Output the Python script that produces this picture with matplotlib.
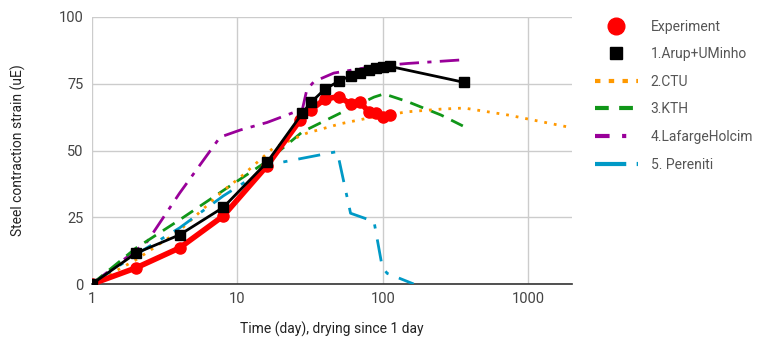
import matplotlib.pyplot as plt
from matplotlib.ticker import FixedLocator, NullLocator
from matplotlib.lines import Line2D

plt.rcParams['font.family'] = ['Roboto', 'DejaVu Sans']

# Experiment
exp_days = [1, 2, 4, 8, 16, 27, 32, 40, 50, 60, 70, 80, 90, 100, 112]
exp_strain = [0, 6, 13.5, 25.5, 44.3, 61.4, 65.2, 69.3, 70.2, 67.4, 68.1, 64.4, 64, 62.5, 63.3]

# 1.Arup+UMinho
arup_days = [1, 2, 4, 8, 16, 28, 32, 40, 50, 60, 70, 80, 90, 100, 112, 364]
arup_strain = [0, 11.5, 18.4, 28.7, 45.6, 64, 68, 73, 76, 78, 79, 80, 80.8, 81.2, 81.5, 75.5]

# 2.CTU
ctu_days = [1, 2, 4, 8, 10.5, 17.7, 30, 51, 87, 148, 251, 363, 724, 1230, 2000]
ctu_strain = [0, 9, 20, 35, 40, 51, 56.5, 60, 62.6, 64.5, 65.5, 65.9, 63.3, 60.8, 58.5]

# 3.KTH
kth_days = [1, 2, 4, 8.5, 16, 28, 51, 87, 102, 148, 251, 355]
kth_strain = [0, 13.4, 24, 36, 46, 57, 64, 70, 71.2, 68.3, 63.3, 59.2]

# 4.LafargeHolcim
lh_days = [1, 2.4, 4, 7.6, 10.5, 16, 28, 30, 33.6, 46, 87, 148, 363]
lh_strain = [0, 15.9, 34, 55, 57.7, 60.5, 65.5, 72.7, 75.8, 79, 81.5, 82.6, 84]

# 5. Pereniti
per_days = [1, 2, 4, 8, 17.7, 48.6, 60, 87, 99, 107, 163]
per_strain = [0, 11, 21, 33, 45, 49.6, 26.5, 23.4, 6.5, 4, 0]

labels = ['Experiment', '1.Arup+UMinho', '2.CTU', '3.KTH', '4.LafargeHolcim', '5. Pereniti']

fig = plt.figure(figsize=(7.62, 3.42), dpi=100)
ax = fig.add_axes([92 / 762, 1 - 284 / 342, 480 / 762, 267 / 342])

ax.plot(lh_days, lh_strain, color='#990099', lw=2, dashes=(7, 3, 1.5, 3), zorder=3)
ax.plot(kth_days, kth_strain, color='#109618', lw=2, dashes=(5, 3), zorder=3)
ax.plot(ctu_days, ctu_strain, color='#ff9900', lw=2, dashes=(1, 2.5), zorder=3)
ax.plot(per_days, per_strain, color='#0099c6', lw=2, dashes=(8, 4, 1.5, 4), zorder=3)
ax.plot(exp_days, exp_strain, color='#ff0000', lw=4, marker='o', ms=8, zorder=4)
ax.plot(arup_days, arup_strain, color='#000000', lw=2, marker='s', ms=7, zorder=5)

ax.set_xscale('log')
ax.set_xlim(1, 2000)
ax.set_ylim(0, 100)
ax.xaxis.set_major_locator(FixedLocator([1, 10, 100, 1000]))
ax.xaxis.set_minor_locator(NullLocator())
ax.set_xticklabels(['1', '10', '100', '1000'])
ax.set_yticks([0, 25, 50, 75, 100])
ax.grid(True, color='#cccccc', lw=1)
ax.set_axisbelow(True)
for s in ['top', 'right', 'left']:
    ax.spines[s].set_visible(False)
ax.spines['bottom'].set_color('#333333')
ax.spines['bottom'].set_linewidth(1.2)
ax.tick_params(length=0, colors='#444444', labelsize=10.5, pad=6)
ax.set_xlabel('Time (day), drying since 1 day', fontsize=10, color='#222222', labelpad=11)
ax.set_ylabel('Steel contraction strain (uE)', fontsize=10, color='#222222', labelpad=24)

handles = [
    Line2D([], [], color='#ff0000', marker='o', ms=12, ls='none'),
    Line2D([], [], color='#000000', marker='s', ms=8, ls='none'),
    Line2D([], [], color='#ff9900', lw=3, dashes=(1.3, 2)),
    Line2D([], [], color='#109618', lw=3, dashes=(3.3, 2.5)),
    Line2D([], [], color='#990099', lw=3, dashes=(3.5, 3, 1, 3)),
    Line2D([], [], color='#0099c6', lw=3, dashes=(7.5, 2.5, 1, 3)),
]
fig.legend(handles, labels, loc='upper left', bbox_to_anchor=(582 / 762, 1 - 7 / 342),
           frameon=False, fontsize=10, handlelength=3.1, handletextpad=0.95,
           labelspacing=0.98, labelcolor='#555555')

fig.savefig('out.png', dpi=100)
